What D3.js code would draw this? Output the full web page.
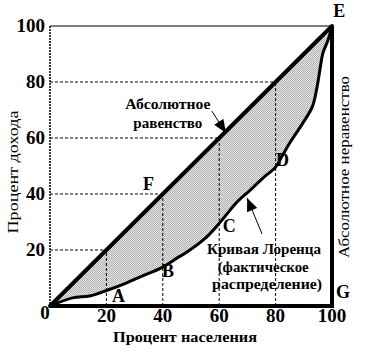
<!DOCTYPE html>
<html><head><meta charset="utf-8">
<script src="https://cdn.jsdelivr.net/npm/d3@7"></script>
<style>
html,body{margin:0;padding:0;background:#fff;}
svg{display:block;font-family:"Liberation Serif","Times New Roman",serif;}
</style></head>
<body>
<svg id="chart" width="377" height="353"></svg>
<script>
// ---- data ----
const lorenzX = [0, 8, 14, 20.5, 27, 32, 40, 45, 48, 55.5, 61, 66, 71, 75.5, 80, 82.5, 85, 89.7, 93, 94.7, 95.7, 96.8, 98.6, 100];
const lorenzY = [0, 2.9, 3.6, 5.7, 8.2, 10.4, 13.9, 17.1, 18.9, 24.6, 30.7, 36.8, 41.4, 45.7, 49.6, 53.9, 58.2, 65.4, 71.1, 78.2, 84.3, 90.4, 95, 100];
const guideValues = [20, 40, 60, 80];
const yTickLabels = ["20", "40", "60", "80", "100"];
const xTickLabels = ["20", "40", "60", "80", "100"];
const pointNames = ["A", "B", "C", "D", "E", "F", "G"];
const pointX = [22, 39.7, 61.3, 80.1, 100.4, 33, 101.4];
const pointY = [1.4, 10.4, 26.4, 50, 103.2, 41.4, 2.9];
const xTitle = "Процент населения";
const yTitle = "Процент дохода";
const rightTitle = "Абсолютное неравенство";
const equalityLabel = ["Абсолютное", "равенство"];
const lorenzLabel = ["Кривая Лоренца", "(фактическое", "распределение)"];

// ---- scales ----
const x = d3.scaleLinear().domain([0, 100]).range([50, 332]);
const y = d3.scaleLinear().domain([0, 100]).range([306, 26]);

const svg = d3.select("#chart");
const defs = svg.append("defs");
const pat = defs.append("pattern").attr("id", "halftone").attr("width", 2).attr("height", 2).attr("patternUnits", "userSpaceOnUse");
pat.append("rect").attr("width", 2).attr("height", 2).attr("fill", "#e6e6e6");
pat.append("rect").attr("x", 0).attr("y", 0).attr("width", 1).attr("height", 1).attr("fill", "#b0b0b0");
pat.append("rect").attr("x", 1).attr("y", 1).attr("width", 1).attr("height", 1).attr("fill", "#b0b0b0");

defs.append("marker").attr("id", "arr").attr("viewBox", "0 0 12 10").attr("refX", 12).attr("refY", 5)
  .attr("markerWidth", 14).attr("markerHeight", 11).attr("markerUnits", "userSpaceOnUse").attr("orient", "auto")
  .append("path").attr("d", "M0,0 L12,5 L0,10 Z").attr("fill", "#000");

const pts = lorenzX.map((v, i) => ({x: v, y: lorenzY[i]}));

// shaded area between equality line and Lorenz curve
svg.append("path").datum(pts)
  .attr("d", d3.area().x(d => x(d.x)).y0(d => y(d.x)).y1(d => y(d.y)))
  .attr("fill", "url(#halftone)");

// frame: top and left thin lines
svg.append("line").attr("x1", x(0)).attr("x2", x(100)).attr("y1", y(100)).attr("y2", y(100))
  .attr("stroke", "#000").attr("stroke-width", 1.2);
svg.append("line").attr("x1", x(0)).attr("x2", x(0)).attr("y1", y(100)).attr("y2", y(0))
  .attr("stroke", "#000").attr("stroke-width", 1.5).attr("stroke-dasharray", "2,1");

// dashed guides
guideValues.forEach(v => {
  svg.append("line").attr("x1", x(0)).attr("x2", x(v)).attr("y1", y(v)).attr("y2", y(v))
    .attr("stroke", "#000").attr("stroke-width", 1).attr("stroke-dasharray", "3,2");
  svg.append("line").attr("x1", x(v)).attr("x2", x(v)).attr("y1", y(0)).attr("y2", y(v))
    .attr("stroke", "#000").attr("stroke-width", 1).attr("stroke-dasharray", "3,2");
});

// Lorenz curve
svg.append("path").datum(pts)
  .attr("d", d3.line().x(d => x(d.x)).y(d => y(d.y)).curve(d3.curveCatmullRom))
  .attr("fill", "none").attr("stroke", "#000").attr("stroke-width", 3).attr("stroke-linejoin", "round");

// equality line
svg.append("line").attr("x1", x(0)).attr("y1", y(0)).attr("x2", x(100)).attr("y2", y(100))
  .attr("stroke", "#000").attr("stroke-width", 4).attr("stroke-linecap", "round");

// bottom axis & right line (absolute inequality)
svg.append("line").attr("x1", x(0)).attr("x2", x(100) + 2).attr("y1", y(0)).attr("y2", y(0))
  .attr("stroke", "#000").attr("stroke-width", 4);
svg.append("line").attr("x1", x(100)).attr("x2", x(100)).attr("y1", y(100)).attr("y2", y(0) + 2)
  .attr("stroke", "#000").attr("stroke-width", 4);

// tick labels
const tickFont = 19;
yTickLabels.forEach(t => {
  svg.append("text").attr("x", 45).attr("y", y(+t) + 6).attr("text-anchor", "end")
    .attr("font-size", tickFont).attr("font-weight", "bold").text(t);
});
xTickLabels.forEach(t => {
  svg.append("text").attr("x", x(+t)).attr("y", 322).attr("text-anchor", "middle")
    .attr("font-size", tickFont).attr("font-weight", "bold").text(t);
});
svg.append("text").attr("x", 45).attr("y", 319).attr("text-anchor", "middle")
  .attr("font-size", tickFont).attr("font-weight", "bold").text("0");

// axis titles
svg.append("text").attr("x", 185).attr("y", 342).attr("text-anchor", "middle")
  .attr("font-size", 15).attr("font-weight", "bold")
  .attr("textLength", 144).attr("lengthAdjust", "spacingAndGlyphs").text(xTitle);
svg.append("text").attr("transform", "translate(18,172) rotate(-90)").attr("text-anchor", "middle")
  .attr("font-size", 15).attr("textLength", 123).attr("lengthAdjust", "spacingAndGlyphs").text(yTitle);
svg.append("text").attr("transform", "translate(349,167) rotate(-90)").attr("text-anchor", "middle")
  .attr("font-size", 14).attr("textLength", 182).attr("lengthAdjust", "spacingAndGlyphs").text(rightTitle);

// point letters
pointNames.forEach((n, i) => {
  svg.append("text").attr("x", x(pointX[i])).attr("y", y(pointY[i]))
    .attr("font-size", 18).attr("font-weight", "bold").text(n);
});

// annotations
const eqLens = [85, 69];
const eqY = [70.4, 63.6];
equalityLabel.forEach((t, i) => {
  svg.append("text").attr("x", x(41.8)).attr("y", y(eqY[i])).attr("text-anchor", "middle")
    .attr("font-size", 15).attr("font-weight", "bold")
    .attr("textLength", eqLens[i]).attr("lengthAdjust", "spacingAndGlyphs").text(t);
});
const lzLens = [114, 91, 110];
const lzX = [75.9, 75.6, 77];
const lzY = [18.6, 12.1, 6.1];
lorenzLabel.forEach((t, i) => {
  svg.append("text").attr("x", x(lzX[i])).attr("y", y(lzY[i])).attr("text-anchor", "middle")
    .attr("font-size", 15).attr("font-weight", "bold")
    .attr("textLength", lzLens[i]).attr("lengthAdjust", "spacingAndGlyphs").text(t);
});

// arrows
svg.append("line").attr("x1", x(57.4)).attr("y1", y(69.6)).attr("x2", x(62.4)).attr("y2", y(61.8))
  .attr("stroke", "#000").attr("stroke-width", 1).attr("marker-end", "url(#arr)");
svg.append("line").attr("x1", x(75.2)).attr("y1", y(25.7)).attr("x2", x(69.9)).attr("y2", y(38.6))
  .attr("stroke", "#000").attr("stroke-width", 1).attr("marker-end", "url(#arr)");
</script>
</body></html>
